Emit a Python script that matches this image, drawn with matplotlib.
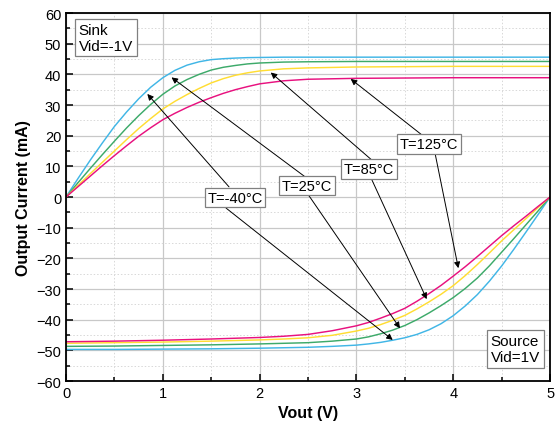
import matplotlib
matplotlib.use('Agg')
import matplotlib.pyplot as plt
from matplotlib.ticker import MultipleLocator

plt.rcParams['font.family'] = ['Liberation Sans', 'DejaVu Sans']

# temperatures and line colours
temps = ['T=-40°C', 'T=25°C', 'T=85°C', 'T=125°C']
colors = ['#41b6e6', '#3daa6a', '#ffdd33', '#e8117f']

# sink (Vid=-1V)
x_sink = [0, 0.125, 0.25, 0.375, 0.5, 0.625, 0.75, 0.875, 1.0, 1.125, 1.25, 1.375, 1.5, 1.625, 1.75, 1.875, 2.0,
          2.25, 2.5, 3.0, 3.5, 4.0, 4.5, 5.0]
sink_m40 = [0, 6.1, 12.0, 17.6, 23.0, 27.7, 32.0, 35.8, 38.9, 41.3, 43.0, 44.1, 44.8, 45.1, 45.3, 45.45, 45.5,
            45.6, 45.6, 45.6, 45.6, 45.6, 45.6, 45.6]
sink_25 = [0, 4.7, 9.3, 13.8, 18.2, 22.5, 26.5, 30.2, 33.5, 36.2, 38.3, 40.0, 41.4, 42.3, 42.9, 43.4, 43.7,
           44.0, 44.1, 44.2, 44.2, 44.2, 44.2, 44.2]
sink_85 = [0, 3.8, 7.6, 11.3, 15.0, 18.7, 22.3, 25.6, 28.7, 31.2, 33.4, 35.4, 37.2, 38.6, 39.7, 40.5, 41.1,
           41.8, 42.1, 42.4, 42.5, 42.6, 42.6, 42.6]
sink_125 = [0, 3.4, 6.8, 10.2, 13.5, 16.7, 19.8, 22.6, 25.2, 27.3, 29.2, 30.9, 32.4, 33.8, 35.0, 36.0, 36.9,
            37.9, 38.4, 38.7, 38.8, 38.9, 38.9, 38.9]

# source (Vid=1V)
x_src = [0, 0.5, 1.0, 1.5, 2.0, 2.25, 2.5, 2.75, 3.0, 3.125, 3.25, 3.375, 3.5, 3.625, 3.75, 3.875, 4.0,
         4.125, 4.25, 4.375, 4.5, 4.625, 4.75, 4.875, 5.0]
src_m40 = [-49.7, -49.7, -49.6, -49.5, -49.3, -49.15, -49.0, -48.7, -48.3, -47.9, -47.4, -46.7, -45.9, -44.8,
           -43.3, -41.3, -38.7, -35.5, -31.8, -27.4, -22.5, -17.1, -11.5, -5.8, 0]
src_25 = [-48.7, -48.6, -48.4, -48.2, -47.9, -47.7, -47.5, -47.0, -46.3, -45.6, -44.6, -43.4, -41.9, -40.0,
          -37.8, -35.4, -32.8, -29.8, -26.4, -22.4, -18.0, -13.6, -9.1, -4.6, 0]
src_85 = [-47.7, -47.5, -47.3, -47.0, -46.6, -46.3, -45.9, -45.1, -43.7, -42.8, -41.6, -40.2, -38.6, -36.5,
          -34.2, -31.7, -28.9, -25.6, -22.0, -18.2, -14.3, -10.7, -7.1, -3.5, 0]
src_125 = [-47.2, -47.0, -46.7, -46.3, -45.8, -45.4, -44.8, -43.6, -42.0, -40.9, -39.5, -38.0, -36.3, -34.0,
           -31.5, -28.8, -25.8, -22.7, -19.4, -16.0, -12.6, -9.4, -6.3, -3.1, 0]

sinks = [sink_m40, sink_25, sink_85, sink_125]
sources = [src_m40, src_25, src_85, src_125]

# label centre, then arrows (start, tip) for sink and source curves
label_pos = [(1.745, -0.2), (2.49, 3.7), (3.13, 9.1), (3.75, 17.3)]
arrows = [
    [((1.684, 3.3), (0.84, 33.6)), ((1.653, -3.6), (3.375, -46.6))],
    [((2.469, 6.6), (1.09, 39.0)), ((2.505, 0.65), (3.45, -42.8))],
    [((3.161, 12.0), (2.115, 40.6)), ((3.151, 6.2), (3.726, -33.3))],
    [((3.678, 20.2), (2.941, 38.5)), ((3.812, 14.3), (4.053, -23.2))],
]

fig = plt.figure(figsize=(5.58, 4.35), dpi=100)
ax = fig.add_axes([0.1183, 0.1218, 0.8674, 0.846])

for s, c in zip(sinks, colors):
    ax.plot(x_sink, s, color=c, lw=1.05)
for s, c in zip(sources, colors):
    ax.plot(x_src, s, color=c, lw=1.05)

ax.set_xlim(0, 5)
ax.set_ylim(-60, 60)
ax.xaxis.set_major_locator(MultipleLocator(1))
ax.xaxis.set_minor_locator(MultipleLocator(0.5))
ax.yaxis.set_major_locator(MultipleLocator(10))
ax.yaxis.set_minor_locator(MultipleLocator(5))
ax.grid(which='major', color='#c8c8c8', lw=0.9)
ax.grid(which='minor', color='#d8d8d8', lw=0.7, ls=(0, (1.5, 2)))
ax.set_axisbelow(True)
ax.tick_params(which='both', direction='in', top=False, right=False, labelsize=10.5, width=1.1, colors='black')
ax.tick_params(which='major', length=5)
ax.tick_params(which='minor', length=3)
for sp in ax.spines.values():
    sp.set_linewidth(1.3)

ax.set_xlabel('Vout (V)', fontsize=11.5, fontweight='bold', labelpad=4)
ax.set_ylabel('Output Current (mA)', fontsize=11.5, fontweight='bold', labelpad=4)

box = dict(boxstyle='square,pad=0.18', fc='white', ec='#808080', lw=0.9)
for t, (lx, ly), arr in zip(temps, label_pos, arrows):
    for start, tip in arr:
        ax.annotate('', xy=tip, xytext=start,
                    arrowprops=dict(arrowstyle='-|>', color='black', lw=0.7,
                                    mutation_scale=9, shrinkA=0, shrinkB=0))
    ax.text(lx, ly, t, ha='center', va='center', fontsize=10.5, bbox=box, zorder=5)

box2 = dict(boxstyle='square,pad=0.25', fc='white', ec='#808080', lw=0.9)
ax.text(0.13, 51.9, 'Sink\nVid=-1V', ha='left', va='center', fontsize=11, linespacing=1.15, bbox=box2, zorder=5)
ax.text(4.385, -49.6, 'Source\nVid=1V', ha='left', va='center', fontsize=11, linespacing=1.15, bbox=box2, zorder=5)

fig.savefig('out.png', dpi=100)
